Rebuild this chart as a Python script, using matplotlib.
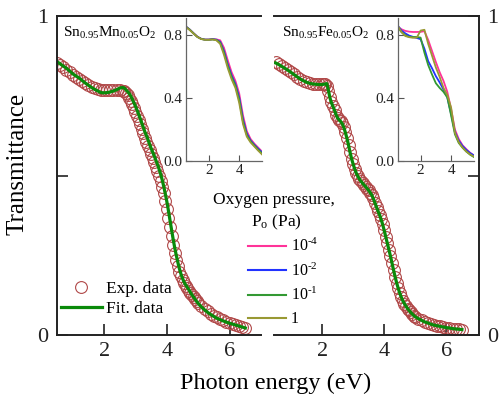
import matplotlib
matplotlib.use("Agg")
import matplotlib.pyplot as plt
from matplotlib.lines import Line2D

plt.rcParams['font.family'] = ['Liberation Serif', 'DejaVu Serif']
plt.rcParams['mathtext.default'] = 'regular'

# main panels: photon energy (eV) vs transmittance
mn_x = [0.5, 0.6, 0.7, 0.8, 0.9, 1.0, 1.1, 1.2, 1.3, 1.4, 1.5, 1.6, 1.7, 1.8, 1.9,
        2.0, 2.1, 2.2, 2.3, 2.4, 2.5, 2.6, 2.65, 2.7, 2.75, 2.8, 2.85, 2.9, 2.95,
        3.0, 3.05, 3.1, 3.15, 3.2, 3.25, 3.3, 3.35, 3.4, 3.45, 3.5, 3.55, 3.6, 3.65,
        3.7, 3.75, 3.8, 3.85, 3.9, 3.95, 4.0, 4.05, 4.1, 4.15, 4.2, 4.25, 4.3, 4.35,
        4.4, 4.45, 4.5, 4.55, 4.6, 4.65, 4.7, 4.75, 4.8, 4.85, 4.9, 4.95, 5.0,
        5.1, 5.2, 5.3, 5.4, 5.5, 5.6, 5.7, 5.8, 5.9, 6.0, 6.1, 6.2, 6.3, 6.4, 6.5]
mn_exp = [0.853, 0.846, 0.839, 0.831, 0.823, 0.815, 0.808, 0.801, 0.795, 0.789, 0.783, 0.778, 0.774, 0.771, 0.769,
          0.768, 0.767, 0.767, 0.767, 0.767, 0.767, 0.766, 0.764, 0.760, 0.752, 0.744, 0.735, 0.724, 0.712,
          0.700, 0.687, 0.674, 0.660, 0.646, 0.632, 0.619, 0.606, 0.593, 0.580, 0.567, 0.554, 0.541, 0.528,
          0.514, 0.499, 0.483, 0.465, 0.444, 0.420, 0.395, 0.367, 0.338, 0.309, 0.282, 0.257, 0.235, 0.215,
          0.199, 0.185, 0.173, 0.163, 0.154, 0.146, 0.138, 0.131, 0.124, 0.118, 0.112, 0.106, 0.101,
          0.091, 0.082, 0.074, 0.067, 0.061, 0.055, 0.050, 0.046, 0.042, 0.038, 0.035, 0.032, 0.029, 0.026, 0.023]
mn_fit = [0.857, 0.850, 0.843, 0.836, 0.828, 0.819, 0.812, 0.806, 0.798, 0.790, 0.783, 0.776, 0.770, 0.765, 0.760,
          0.759, 0.760, 0.762, 0.765, 0.769, 0.774, 0.776, 0.774, 0.768, 0.763, 0.757, 0.749, 0.739, 0.728,
          0.717, 0.705, 0.692, 0.679, 0.665, 0.651, 0.637, 0.625, 0.612, 0.598, 0.585, 0.573, 0.561, 0.548,
          0.535, 0.521, 0.505, 0.487, 0.466, 0.443, 0.418, 0.390, 0.360, 0.330, 0.301, 0.274, 0.250, 0.228,
          0.208, 0.191, 0.177, 0.166, 0.157, 0.150, 0.142, 0.134, 0.126, 0.119, 0.112, 0.105, 0.099,
          0.088, 0.079, 0.071, 0.064, 0.058, 0.052, 0.048, 0.044, 0.040, 0.037, 0.034, 0.031, 0.028, 0.025, 0.022]

fe_x = [0.5, 0.6, 0.7, 0.8, 0.9, 1.0, 1.1, 1.2, 1.3, 1.4, 1.5, 1.6, 1.7, 1.8, 1.9,
        2.0, 2.05, 2.1, 2.15, 2.2, 2.25, 2.3, 2.35, 2.4, 2.45, 2.5, 2.55, 2.6, 2.65,
        2.7, 2.75, 2.8, 2.85, 2.9, 2.95, 3.0, 3.05, 3.1, 3.15, 3.2, 3.25, 3.3, 3.35,
        3.4, 3.45, 3.5, 3.55, 3.6, 3.65, 3.7, 3.75, 3.8, 3.85, 3.9, 3.95, 4.0, 4.05,
        4.1, 4.15, 4.2, 4.25, 4.3, 4.35, 4.4, 4.45, 4.5, 4.55, 4.6, 4.65, 4.7, 4.75,
        4.8, 4.85, 4.9, 4.95, 5.0, 5.1, 5.2, 5.3, 5.4, 5.5, 5.6, 5.7, 5.8, 5.9,
        6.0, 6.1, 6.2, 6.3, 6.4, 6.5]
fe_exp = [0.855, 0.849, 0.843, 0.837, 0.831, 0.824, 0.817, 0.810, 0.803, 0.797, 0.793, 0.790, 0.788, 0.787, 0.786,
          0.786, 0.786, 0.786, 0.782, 0.766, 0.746, 0.731, 0.718, 0.705, 0.691, 0.681, 0.674, 0.670, 0.664,
          0.651, 0.636, 0.618, 0.596, 0.573, 0.553, 0.536, 0.521, 0.508, 0.498, 0.489, 0.482, 0.476, 0.470,
          0.465, 0.459, 0.453, 0.446, 0.438, 0.428, 0.415, 0.401, 0.388, 0.376, 0.363, 0.347, 0.328, 0.308,
          0.288, 0.268, 0.248, 0.226, 0.204, 0.183, 0.164, 0.146, 0.131, 0.118, 0.107, 0.098, 0.090, 0.083,
          0.077, 0.071, 0.066, 0.061, 0.057, 0.051, 0.046, 0.041, 0.038, 0.034, 0.031, 0.029, 0.027, 0.025,
          0.023, 0.022, 0.020, 0.019, 0.018, 0.017]
fe_fit = [0.853, 0.848, 0.842, 0.836, 0.830, 0.823, 0.816, 0.809, 0.802, 0.797, 0.792, 0.789, 0.787, 0.786, 0.785,
          0.785, 0.786, 0.787, 0.788, 0.768, 0.744, 0.728, 0.716, 0.704, 0.690, 0.680, 0.674, 0.669, 0.662,
          0.650, 0.634, 0.616, 0.595, 0.572, 0.552, 0.535, 0.520, 0.507, 0.497, 0.489, 0.482, 0.476, 0.470,
          0.465, 0.459, 0.453, 0.446, 0.438, 0.427, 0.414, 0.401, 0.388, 0.376, 0.362, 0.346, 0.327, 0.307,
          0.287, 0.267, 0.247, 0.225, 0.203, 0.182, 0.163, 0.146, 0.131, 0.118, 0.107, 0.098, 0.090, 0.083,
          0.077, 0.071, 0.066, 0.061, 0.057, 0.051, 0.046, 0.041, 0.038, 0.034, 0.031, 0.029, 0.027, 0.025,
          0.023, 0.022, 0.020, 0.019, 0.018, 0.017]

# insets: one curve per oxygen pressure
ins_x = [0.5, 0.75, 1.0, 1.25, 1.5, 1.75, 2.0, 2.25, 2.5, 2.75, 3.0,
         3.25, 3.5, 3.75, 4.0, 4.25, 4.5, 4.75, 5.0, 5.25, 5.5]
pressures = ['10$^{\u20104}$', '10$^{\u20102}$', '10$^{\u20101}$', '1']
colors = ['#ff3399', '#2233ff', '#339933', '#999933']

mn_ins = [
    [0.855, 0.836, 0.813, 0.791, 0.778, 0.773, 0.773, 0.776, 0.774, 0.768, 0.720, 0.640, 0.565, 0.510, 0.430, 0.290, 0.190, 0.140, 0.110, 0.085, 0.060],
    [0.855, 0.836, 0.812, 0.790, 0.777, 0.772, 0.772, 0.775, 0.772, 0.758, 0.700, 0.615, 0.545, 0.490, 0.405, 0.265, 0.175, 0.130, 0.103, 0.078, 0.055],
    [0.854, 0.835, 0.812, 0.790, 0.777, 0.772, 0.772, 0.774, 0.770, 0.752, 0.690, 0.605, 0.535, 0.480, 0.390, 0.250, 0.165, 0.125, 0.098, 0.072, 0.048],
    [0.852, 0.833, 0.810, 0.789, 0.776, 0.771, 0.771, 0.773, 0.768, 0.745, 0.675, 0.590, 0.520, 0.465, 0.370, 0.235, 0.155, 0.118, 0.092, 0.066, 0.042],
]
fe_ins = [
    [0.855, 0.838, 0.828, 0.823, 0.821, 0.821, 0.822, 0.826, 0.770, 0.700, 0.630, 0.565, 0.510, 0.440, 0.330, 0.200, 0.140, 0.100, 0.075, 0.052, 0.035],
    [0.862, 0.830, 0.812, 0.798, 0.790, 0.783, 0.775, 0.715, 0.635, 0.590, 0.540, 0.500, 0.455, 0.405, 0.300, 0.185, 0.130, 0.095, 0.070, 0.050, 0.035],
    [0.852, 0.820, 0.800, 0.790, 0.789, 0.789, 0.785, 0.690, 0.610, 0.550, 0.495, 0.465, 0.440, 0.405, 0.290, 0.170, 0.115, 0.085, 0.060, 0.040, 0.025],
    [0.862, 0.820, 0.795, 0.788, 0.784, 0.785, 0.830, 0.835, 0.745, 0.670, 0.595, 0.535, 0.465, 0.420, 0.340, 0.180, 0.120, 0.085, 0.060, 0.042, 0.028],
]

fig = plt.figure(figsize=(5.04, 4.01), dpi=100)
W, H = 504.0, 401.0


def box(x0, y0, x1, y1):
    return [x0 / W, 1 - y1 / H, (x1 - x0) / W, (y1 - y0) / H]


ax1 = fig.add_axes(box(57, 16, 261, 335))
ax2 = fig.add_axes(box(274, 16, 479, 335))
in1 = fig.add_axes(box(186, 18, 262, 161))
in2 = fig.add_axes(box(397.7, 18, 474, 161))

spine_c = '#222222'
for ax, xs, ex, ft, xl in [(ax1, mn_x, mn_exp, mn_fit, (0.5, 7.0)),
                           (ax2, fe_x, fe_exp, fe_fit, (0.45, 7.05))]:
    ax.plot(xs, ex, 'o', ms=8.5, mfc='none', mec='#b04848', mew=0.8)
    ax.plot(xs, ft, '-', color='#0a8a0a', lw=2.3)
    ax.set_xlim(*xl)
    ax.set_ylim(0, 1)
    ax.set_xticks([2, 4, 6])
    ax.set_yticks([0, 0.5, 1])
    ax.set_yticklabels(['0', '', '1'])
    ax.tick_params(direction='in', length=8, width=1.2, colors=spine_c,
                   labelsize=16, pad=5)
    ax.tick_params(axis='y', pad=6)
    for s in ax.spines.values():
        s.set_linewidth(1.4)
        s.set_color(spine_c)
    ax.patch.set_alpha(0)

ax1.spines['right'].set_visible(False)
ax2.spines['left'].set_visible(False)
ax2.yaxis.tick_right()
ax2.tick_params(axis='y', left=False, right=True)

for ax, curves in [(in1, mn_ins), (in2, fe_ins)]:
    for ys, c, lab in zip(curves, colors, pressures):
        ax.plot(ins_x, ys, color=c, lw=1.3, label=lab)
    ax.set_xlim(0.5, 5.5)
    ax.set_ylim(0, 0.91)
    ax.set_xticks([2, 4])
    ax.set_yticks([0.0, 0.4, 0.8])
    ax.set_yticklabels(['0.0', '0.4', '0.8'])
    ax.tick_params(direction='in', length=4, width=0.8, colors='#555555',
                   labelsize=11, pad=2.5, labelcolor='#222222')
    ax.spines['top'].set_visible(False)
    ax.spines['right'].set_visible(False)
    for s in ['left', 'bottom']:
        ax.spines[s].set_color('#666666')
        ax.spines[s].set_linewidth(0.9)
    ax.patch.set_alpha(0)

ax1.text(63 / W, 1 - 37 / H, 'Sn$_{0.95}$Mn$_{0.05}$O$_2$', transform=fig.transFigure,
         fontsize=11, va='baseline', ha='left')
ax2.text(281.5 / W, 1 - 37 / H, 'Sn$_{0.95}$Fe$_{0.05}$O$_2$', transform=fig.transFigure,
         fontsize=11, va='baseline', ha='left')

fig.text(18 / W, 1 - 164 / H, 'Transmittance', rotation=90, ha='center', va='center', fontsize=18)
fig.text(276 / W, 1 - 383 / H, 'Photon energy (eV)', ha='center', va='center', fontsize=17.5)

# sample legend
h_exp = Line2D([], [], ls='none', marker='o', ms=8.5, mfc='none', mec='#b04848', mew=0.8)
h_fit = Line2D([], [], color='#0a8a0a', lw=2.3)
ax1.legend([h_exp, h_fit], ['Exp. data', 'Fit. data'], loc='upper left',
           bbox_to_anchor=(61 / W, 1 - 281 / H), bbox_transform=fig.transFigure,
           frameon=False, fontsize=12.5, handlelength=2.35, handletextpad=0.25,
           labelspacing=0.2, borderpad=0, borderaxespad=0)

# oxygen pressure legend
fig.text(274 / W, 1 - 200 / H, 'Oxygen pressure,', ha='center', va='center', fontsize=12.5)
fig.text(276 / W, 1 - 222 / H, 'P$_o$ (Pa)', ha='center', va='center', fontsize=12.5)
handles = [Line2D([], [], color=c, lw=1.5) for c in colors]
fig.legend(handles, pressures, loc='upper left',
           bbox_to_anchor=(248 / W, 1 - 238 / H), frameon=False, fontsize=11.5,
           handlelength=2.4, handletextpad=0.3, labelspacing=0.45,
           borderpad=0, borderaxespad=0)

fig.savefig('out.png', dpi=100)
